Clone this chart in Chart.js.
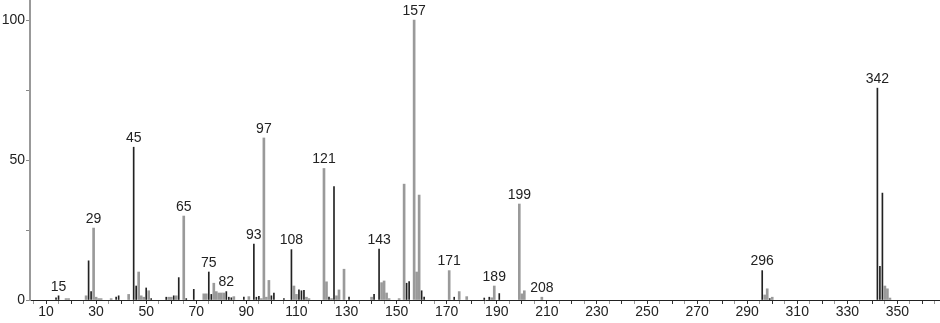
<!DOCTYPE html>
<html>
<head>
<meta charset="utf-8">
<script src="https://cdn.jsdelivr.net/npm/chart.js@4.4.0/dist/chart.umd.min.js"></script>
<style>
html, body { margin: 0; padding: 0; background: #fff; }
#wrap { width: 940px; height: 323px; }
</style>
</head>
<body>
<div id="wrap"><canvas id="spectrum" width="940" height="323"></canvas></div>
<script>
// m/z and relative intensity, dark peaks
const darkMz = [14, 15, 27, 28, 38, 39, 45, 46, 50, 52, 58, 61, 63, 66, 69, 75, 76, 82, 83, 84,
    89, 93, 94, 95, 100, 101, 105, 108, 111, 112, 113, 123, 125, 131, 141, 143, 154, 155, 160, 161,
    173, 185, 187, 191, 296, 299, 342, 343, 344];
const darkInt = [0.8, 1.5, 14, 3, 1, 1.5, 54.6, 5, 4.3, 0.5, 1, 1.5, 8, 0.5, 3.8, 10, 2, 3, 1, 0.8,
    1, 20, 1, 1.3, 1.5, 2.5, 0.5, 18, 3.6, 3.3, 3.5, 1, 40.5, 1, 2, 18.2, 6, 6.6, 3.3, 1,
    1, 0.7, 1, 2.3, 10.5, 0.5, 75.7, 12, 38.2];

// grey peaks
const greyMz = [18, 19, 26, 29, 30, 31, 32, 36, 43, 47, 48, 49, 51, 59, 60, 62, 65, 73, 74, 77,
    78, 79, 80, 81, 85, 91, 96, 97, 98, 99, 109, 110, 114, 115, 121, 122, 124, 126, 127, 129,
    140, 144, 145, 146, 147, 151, 153, 157, 158, 159, 171, 175, 178, 188, 189, 199, 200, 201, 208, 297,
    298, 300, 345, 346, 347];
const greyInt = [0.5, 0.5, 1.5, 25.7, 1, 0.5, 0.5, 0.5, 2, 10, 1.5, 1, 3.3, 1, 1, 1.5, 30, 2.2, 2.2, 6,
    3, 2.5, 2.5, 2.5, 1.2, 1.2, 0.5, 57.9, 1, 7, 5, 2, 1, 0.5, 47, 6.5, 0.5, 1.5, 3.6, 11,
    1, 6.2, 6.8, 2.5, 0.5, 0.5, 41.4, 100, 10, 37.5, 10.5, 3, 1.2, 0.8, 5, 34.3, 2.2, 3.3, 1, 1.8,
    4, 1, 5, 4, 0.7];

// peaks that get a number on top
const labelMz = [15, 29, 45, 65, 75, 82, 93, 97, 108, 121, 143, 157, 171, 189, 199, 208, 296, 342];

const xTickLabels = [10, 30, 50, 70, 90, 110, 130, 150, 170, 190, 210, 230, 250, 270, 290, 310, 330, 350];
const yTickLabels = [0, 50, 100];

const FONT = "'Liberation Sans', sans-serif";

function toPoints(mz, val) {
    return mz.map((m, i) => ({ x: m, y: val[i] }));
}

function intensityAt(m) {
    let i = darkMz.indexOf(m);
    if (i >= 0) return darkInt[i];
    i = greyMz.indexOf(m);
    return i >= 0 ? greyInt[i] : 0;
}

const peakLabels = {
    id: 'peakLabels',
    afterDatasetsDraw(chart) {
        const ctx = chart.ctx;
        const xs = chart.scales.x, ys = chart.scales.y;
        ctx.save();
        ctx.font = '14px ' + FONT;
        ctx.fillStyle = '#222';
        ctx.textAlign = 'center';
        ctx.textBaseline = 'bottom';
        labelMz.forEach(m => {
            const px = xs.getPixelForValue(m);
            const py = ys.getPixelForValue(intensityAt(m)) - 2;
            ctx.fillText(String(m), px, py);
        });
        ctx.restore();
    }
};

var ctx = document.getElementById('spectrum').getContext('2d');
var chart = new Chart(ctx, {
    type: 'bar',
    data: {
        datasets: [{
            label: 'dark',
            data: toPoints(darkMz, darkInt),
            backgroundColor: '#222',
            barThickness: 1,
            grouped: false
        }, {
            label: 'grey',
            data: toPoints(greyMz, greyInt),
            backgroundColor: '#9a9a9a',
            barThickness: 2,
            grouped: false
        }]
    },
    plugins: [peakLabels],
    options: {
        responsive: false,
        animation: false,
        devicePixelRatio: 1,
        layout: { padding: 0 },
        plugins: {
            legend: { display: false },
            tooltip: { enabled: false }
        },
        scales: {
            x: {
                type: 'linear',
                offset: false,
                min: 3.6,
                max: 367,
                afterBuildTicks: scale => {
                    const t = [];
                    for (let v = 5; v <= 365; v += 5) t.push({ value: v });
                    scale.ticks = t;
                },
                afterFit: scale => {
                    scale.height = 23;
                    scale.paddingLeft = 0;
                    scale.paddingRight = 0;
                },
                ticks: {
                    autoSkip: false,
                    maxRotation: 0,
                    padding: 0,
                    color: '#222',
                    font: { family: FONT, size: 14 },
                    callback: v => (xTickLabels.includes(v) ? String(v) : '')
                },
                grid: {
                    offset: false,
                    drawOnChartArea: false,
                    tickLength: 4,
                    color: c => (c.tick && c.tick.value % 10 === 0 ? '#333' : '#999')
                },
                border: { color: '#222', width: 1 }
            },
            y: {
                min: 0,
                max: 107.2,
                afterBuildTicks: scale => {
                    scale.ticks = [0, 25, 50, 75, 100].map(v => ({ value: v }));
                },
                afterFit: scale => {
                    scale.width = 30;
                    scale.paddingTop = 0;
                    scale.paddingBottom = 0;
                },
                ticks: {
                    padding: 1,
                    color: '#222',
                    font: { family: FONT, size: 14 },
                    callback: v => (yTickLabels.includes(v) ? String(v) : '')
                },
                grid: {
                    drawOnChartArea: false,
                    tickLength: 4,
                    color: '#888'
                },
                border: { color: '#999', width: 2 }
            }
        }
    }
});
</script>
</body>
</html>
